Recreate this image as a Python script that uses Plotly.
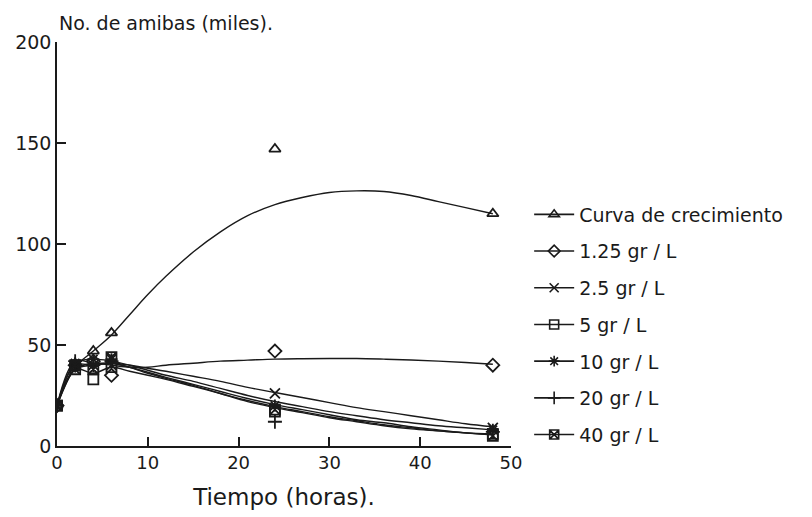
import plotly.graph_objects as go

# Measured data points (hours, thousands of amoebae)
hours = [0, 2, 4, 6, 24, 48]
curva = [20, 39, 47, 56, 147, 115]
g1_25 = [20, 40, 42, 35, 47, 40]
g2_5 = [20, 38, 40, 40, 26, 9]
g5 = [20, 38, 33, 39, 17, 6]
g10 = [20, 41, 43, 43, 20, 8]
g20 = [20, 42, 40, 42, 12, 7]
g40 = [20, 40, 38, 44, 18, 5]

# Fitted curves
fit_x = [0, 2, 4, 6, 8, 10, 12, 15, 18, 21, 24, 27, 30, 33, 36, 39, 42, 45, 48]
fit_curva = [20, 39, 47, 55, 65, 75, 84, 96, 106, 114, 119.5, 123, 125.5, 126.3, 126, 124, 121, 118, 115]
fit_1_25 = [20, 38, 41, 40, 39, 39, 40, 41, 42, 42.5, 43, 43.2, 43.3, 43.3, 43, 42.6, 42, 41.3, 40.5]
fit_2_5 = [20, 38, 40, 41, 40, 38.5, 37, 34.5, 32, 29, 26.5, 24, 21.5, 19, 17, 15, 13, 11, 9.5]
fit_5 = [20, 38, 36, 39, 37, 35, 33, 29.5, 26, 22.5, 19.5, 17, 14.5, 12.5, 10.5, 9, 7.5, 6.5, 5.5]
fit_10 = [20, 41, 43, 42, 40, 37.5, 35, 32, 28.5, 25, 22, 19.5, 17, 15, 13, 11.5, 10, 9, 8]
fit_20 = [20, 42, 41, 41, 39, 36, 33.5, 30, 26, 22, 19, 16.5, 14, 12, 10, 8.5, 7.5, 6.5, 6]
fit_40 = [20, 40, 40, 41, 39, 36.5, 34, 30.5, 27, 23.5, 20.5, 18, 15.5, 13, 11.5, 9.5, 8, 6.5, 5.5]

names = ["Curva de crecimiento", "1.25 gr / L", "2.5 gr / L", "5 gr / L",
         "10 gr / L", "20 gr / L", "40 gr / L"]
points = [curva, g1_25, g2_5, g5, g10, g20, g40]
fits = [fit_curva, fit_1_25, fit_2_5, fit_5, fit_10, fit_20, fit_40]
symbols = ["triangle-up-open", "diamond-open", "x-thin-open", "square-open",
           "asterisk-open", "cross-thin-open", "square-x-open"]

INK = "#1a1a1a"
FONT = "DejaVu Sans"

fig = go.Figure()
for i, (nm, pts, ft, sym) in enumerate(zip(names, points, fits, symbols)):
    fig.add_trace(go.Scatter(x=fit_x, y=ft, mode="lines", line=dict(color=INK, width=1.4, shape="spline"),
                             showlegend=False, hoverinfo="skip"))
    fig.add_trace(go.Scatter(x=hours, y=pts, mode="markers",
                             marker=dict(symbol=sym, size=10, color=INK, line=dict(color=INK, width=1.8)),
                             showlegend=False, name=nm))
    # legend entry (line + marker)
    fig.add_trace(go.Scatter(x=[None], y=[None], mode="lines+markers", name=nm,
                             legendgroup=f"g{i}",
                             line=dict(color=INK, width=1.6),
                             marker=dict(symbol=sym, size=9, color=INK, line=dict(color=INK, width=1.6))))

fig.update_layout(
    width=812, height=517,
    margin=dict(l=57, r=301, t=42, b=71),
    paper_bgcolor="white", plot_bgcolor="white",
    font=dict(family=FONT, color=INK, size=19),
    xaxis=dict(range=[0, 50], tickvals=[0, 10, 20, 30, 40, 50], ticks="inside", ticklen=9,
               tickwidth=1.5, tickcolor=INK, showline=True, linecolor=INK, linewidth=1.6,
               showgrid=False, zeroline=False, tickfont=dict(size=18),
               title=dict(text="Tiempo (horas).", font=dict(size=23), standoff=16)),
    yaxis=dict(range=[0, 200], tickvals=[0, 50, 100, 150, 200], ticks="inside", ticklen=9,
               tickwidth=1.5, tickcolor=INK, showline=True, linecolor=INK, linewidth=1.6,
               showgrid=False, zeroline=False, tickfont=dict(size=19)),
    legend=dict(x=1.04, y=0.62, xanchor="left", yanchor="top", font=dict(size=19),
                traceorder="grouped", tracegroupgap=9, itemwidth=40,
                bgcolor="rgba(0,0,0,0)"),
    annotations=[dict(text="No. de amibas (miles).", xref="paper", yref="paper",
                      x=0, y=1, xanchor="left", yanchor="bottom", yshift=6, showarrow=False,
                      font=dict(size=19, color=INK))],
)

fig.write_html("out.html")
